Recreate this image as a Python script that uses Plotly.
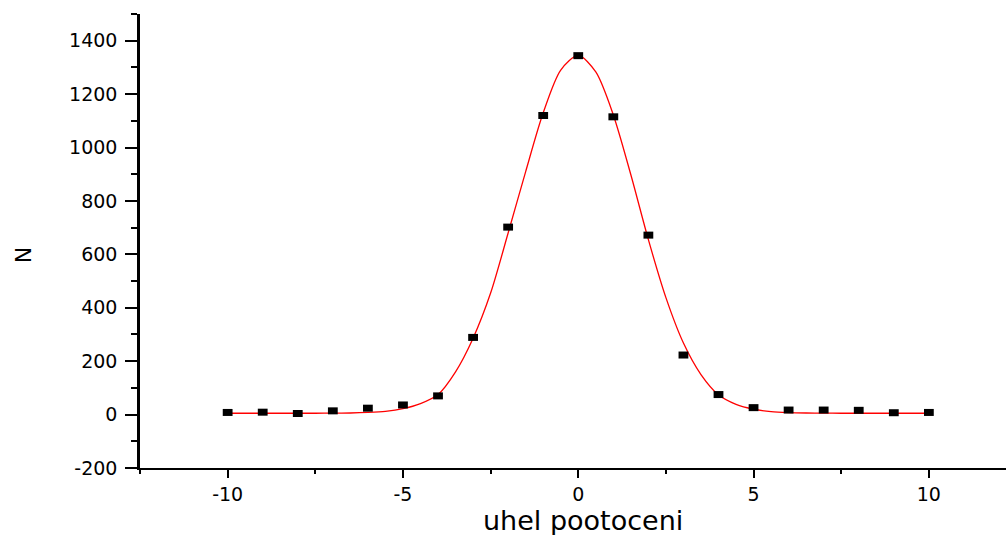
import plotly.graph_objects as go

# measured data points (angle, counts)
angles = [-10, -9, -8, -7, -6, -5, -4, -3, -2, -1, 0, 1, 2, 3, 4, 5, 6, 7, 8, 9, 10]
counts = [8, 9, 4, 14, 24, 36, 70, 289, 702, 1120, 1344, 1115, 672, 223, 75, 26, 17, 17, 16, 7, 8]

# fitted curve
fit_x = [-10, -9.5, -9, -8.5, -8, -7.5, -7, -6.5, -6, -5.5, -5, -4.5, -4, -3.5, -3, -2.5, -2, -1.5, -1, -0.5,
         0, 0.5, 1, 1.5, 2, 2.5, 3, 3.5, 4, 4.5, 5, 5.5, 6, 6.5, 7, 7.5, 8, 8.5, 9, 9.5, 10]
fit_y = [5, 5, 5, 5, 5, 5, 5.5, 6, 8, 12, 22, 41, 75, 160, 286, 455, 680, 910, 1130, 1290,
         1345, 1283, 1122, 898, 655, 438, 268, 150, 74, 38, 20, 11, 7.5, 6, 5.5, 5, 5, 5, 5, 5, 5]

x_tickvals = [-10, -5, 0, 5, 10]
x_ticktext = ["-10", "-5", "0", "5", "10"]
y_tickvals = [-200, 0, 200, 400, 600, 800, 1000, 1200, 1400]
y_ticktext = ["-200", "0", "200", "400", "600", "800", "1000", "1200", "1400"]

x_title = "uhel pootoceni"
y_title = "N"

FONT = "DejaVu Sans"

fig = go.Figure()
fig.add_trace(go.Scatter(
    x=fit_x, y=fit_y, mode="lines",
    line=dict(color="#ff0000", width=1.3, shape="spline", smoothing=0.8),
    hoverinfo="skip", showlegend=False))
fig.add_trace(go.Scatter(
    x=angles, y=counts, mode="markers",
    marker=dict(symbol="line-ew", size=7, color="black", line=dict(color="black", width=7)),
    showlegend=False))

fig.update_layout(
    width=1006, height=535,
    margin=dict(l=140, r=0, t=14, b=67),
    paper_bgcolor="white", plot_bgcolor="white",
    showlegend=False,
    font=dict(family=FONT, color="black"),
    xaxis=dict(
        range=[-12.5, 12.2], tickmode="array", tickvals=x_tickvals, ticktext=x_ticktext,
        ticks="outside", ticklen=8, tickwidth=2, tickcolor="black",
        showline=True, linewidth=2, linecolor="black",
        showgrid=False, zeroline=False,
        tickfont=dict(family=FONT, size=19, color="black"),
        minor=dict(tickmode="linear", tick0=0, dtick=2.5, ticks="outside", ticklen=4, tickwidth=2,
                   tickcolor="black", showgrid=False),
    ),
    yaxis=dict(
        range=[-200, 1500], tickmode="array", tickvals=y_tickvals, ticktext=y_ticktext,
        ticks="outside", ticklen=12, tickwidth=2, tickcolor="black",
        showline=True, linewidth=2.5, linecolor="black",
        showgrid=False, zeroline=False, ticklabelstandoff=4,
        tickfont=dict(family=FONT, size=19, color="black"),
        minor=dict(tickmode="linear", tick0=0, dtick=100, ticks="outside", ticklen=6, tickwidth=2,
                   tickcolor="black", showgrid=False),
    ),
    annotations=[
        dict(text=x_title, xref="paper", yref="paper", x=0.511, y=-0.115,
             xanchor="center", yanchor="middle", showarrow=False,
             font=dict(family=FONT, size=27, color="black")),
        dict(text=y_title, xref="paper", yref="paper", x=-0.135, y=0.469,
             xanchor="center", yanchor="middle", showarrow=False, textangle=-90,
             font=dict(family=FONT, size=22, color="black")),
    ],
)

fig.write_html("out.html", config={"displayModeBar": False},
               post_script="document.body.style.margin='0';document.body.style.overflow='hidden';")
